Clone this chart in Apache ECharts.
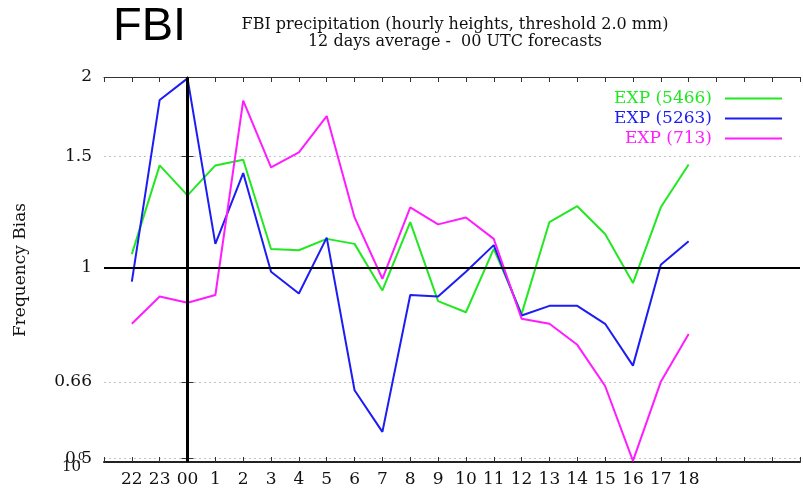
<!DOCTYPE html>
<html>
<head>
<meta charset="utf-8">
<script src="https://cdn.jsdelivr.net/npm/echarts@6/dist/echarts.min.js"></script>
<style>
  html, body { margin: 0; padding: 0; background: #fff; }
  #chart { width: 803px; height: 493px; }
</style>
</head>
<body>
<div id="chart"></div>
<script>
// forecast hours, 22 and 23 are the previous day
const hours = ['22', '23', '00', '1', '2', '3', '4', '5', '6', '7', '8', '9', '10',
               '11', '12', '13', '14', '15', '16', '17', '18'];
const exp5466 = [1.05, 1.45, 1.30, 1.45, 1.48, 1.07, 1.065, 1.11, 1.09, 0.92, 1.18,
                 0.885, 0.85, 1.07, 0.845, 1.18, 1.25, 1.13, 0.945, 1.245, 1.455];
const exp5263 = [0.95, 1.84, 1.99, 1.09, 1.41, 0.985, 0.91, 1.115, 0.64, 0.55, 0.905,
                 0.90, 0.985, 1.085, 0.84, 0.87, 0.87, 0.815, 0.70, 1.01, 1.10];
const exp713 = [0.815, 0.90, 0.88, 0.905, 1.835, 1.44, 1.52, 1.735, 1.2, 0.96, 1.245,
                1.17, 1.2, 1.11, 0.83, 0.815, 0.755, 0.65, 0.495, 0.66, 0.785];
const yTicks = [0.5, 0.66, 1, 1.5, 2];
const seriesNames = ['EXP (5466)', 'EXP (5263)', 'EXP (713)'];
const colors = ['#22e822', '#1c1cf4', '#ff1cff'];

const serif = '"DejaVu Serif", serif';
const toPairs = arr => arr.map((v, i) => [i - 2, v]);

const chart = echarts.init(document.getElementById('chart'));

const xBase = {
  type: 'value', min: -3, max: 22, interval: 1,
  splitLine: { show: false },
  axisTick: { inside: true, length: 5, lineStyle: { color: '#333' } }
};
const yBase = {
  type: 'log', logBase: 2, min: 0.493, max: 2,
  axisTick: { inside: true, length: 6, customValues: yTicks, lineStyle: { color: '#333' } },
  axisLine: { show: true, lineStyle: { color: '#333', width: 1 } },
  minorTick: { show: false }
};

chart.setOption({
  animation: false,
  backgroundColor: '#fff',
  color: colors,
  grid: { left: 104, top: 77, width: 701, bottom: 31 },
  xAxis: [
    Object.assign({}, xBase, {
      position: 'bottom',
      axisLine: { show: true, lineStyle: { color: '#222', width: 2 } },
      axisLabel: {
        margin: 9, color: '#111', fontFamily: serif, fontSize: 17,
        formatter: v => hours[v + 2] || ''
      }
    }),
    Object.assign({}, xBase, {
      position: 'top',
      axisLine: { show: true, onZero: false, lineStyle: { color: '#333', width: 1 } },
      axisLabel: { show: false }
    })
  ],
  yAxis: [
    Object.assign({}, yBase, {
      position: 'left',
      axisLabel: {
        customValues: yTicks, margin: 12, color: '#111', fontFamily: serif, fontSize: 17,
        formatter: v => String(v)
      },
      splitLine: { show: true, lineStyle: { color: '#c4c4c4', type: [2, 3], width: 1 } }
    }),
    Object.assign({}, yBase, {
      position: 'right',
      axisLabel: { show: false },
      splitLine: { show: false }
    })
  ],
  legend: {
    orient: 'vertical', right: 16, top: 85, align: 'right',
    icon: 'rect', itemWidth: 57, itemHeight: 2, itemGap: 3,
    textStyle: { fontFamily: serif, fontSize: 17, lineHeight: 16, padding: [0, 8, 0, 0] },
    data: seriesNames.map((n, i) => ({ name: n, textStyle: { color: colors[i] } }))
  },
  graphic: [
    { type: 'text', x: 113, y: 27, style: { text: 'FBI', font: '47px "Liberation Sans"', fill: '#000', verticalAlign: 'middle' } },
    { type: 'text', x: 455, y: 25, style: { text: 'FBI precipitation (hourly heights, threshold 2.0 mm)', font: '16px ' + serif, fill: '#111', align: 'center', verticalAlign: 'middle' } },
    { type: 'text', x: 455, y: 42, style: { text: '12 days average -  00 UTC forecasts', font: '16px ' + serif, fill: '#111', align: 'center', verticalAlign: 'middle' } },
    { type: 'text', x: 21, y: 270, rotation: Math.PI / 2, style: { text: 'Frequency Bias', font: '17px ' + serif, fill: '#111', align: 'center', verticalAlign: 'middle' } },
    { type: 'text', x: 62, y: 467, style: { text: '10', font: '15px ' + serif, fill: '#111', verticalAlign: 'middle' } },
    { type: 'text', x: 78, y: 457, style: { text: '0', font: '11px ' + serif, fill: '#111', verticalAlign: 'middle' } }
  ],
  series: [exp5466, exp5263, exp713].map((arr, i) => ({
    name: seriesNames[i],
    type: 'line',
    data: toPairs(arr),
    symbol: 'none',
    lineStyle: { width: 2, color: colors[i] },
    z: 2,
    markLine: i === 0 ? {
      silent: true, symbol: 'none', label: { show: false },
      data: [
        { yAxis: 1, lineStyle: { color: '#000', width: 2, type: 'solid' } },
        { xAxis: 0, lineStyle: { color: '#000', width: 3, type: 'solid' } }
      ]
    } : undefined
  }))
});
</script>
</body>
</html>
